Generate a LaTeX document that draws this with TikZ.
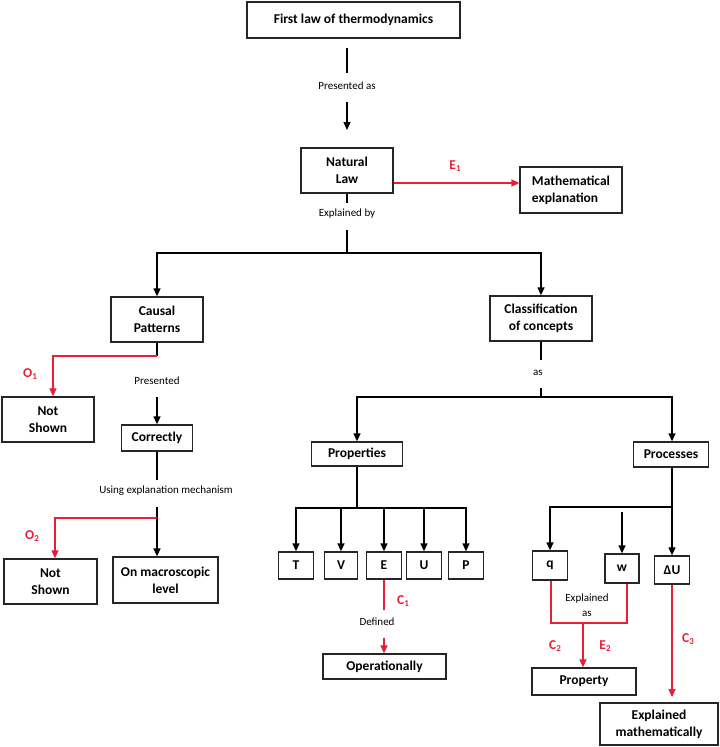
\documentclass[tikz,border=0pt]{standalone}
\usepackage{fontspec}
\setmainfont{Carlito}
\usetikzlibrary{arrows.meta}
\definecolor{myred}{RGB}{232,30,55}
\newcommand{\rsub}[2]{#1\raisebox{-2.5pt}{\fontsize{9}{9}\selectfont #2}}
\tikzset{
 box/.style={draw=black!85, line width=1.3pt, inner sep=0pt, align=center, font=\fontsize{13.5}{17}\selectfont\bfseries},
 lbl/.style={font=\fontsize{11}{15}\selectfont, inner sep=1pt, align=center},
 rlbl/.style={font=\fontsize{13.5}{16}\selectfont\bfseries, text=myred, inner sep=0pt},
 conn/.style={line width=1.3pt, draw=black},
 arr/.style={conn, -{Triangle[length=8pt,width=7pt]}},
 rconn/.style={line width=1.4pt, draw=myred},
 rarr/.style={rconn, -{Triangle[length=8pt,width=7pt]}},
}
\begin{document}
\begin{tikzpicture}[x=1pt,y=-1pt]
\useasboundingbox (0,0) rectangle (720,747);
% boxes
\node[box, minimum width=213pt, minimum height=36pt] (first) at (353.5,20) {First law of thermodynamics};
\node[box, minimum width=92pt, minimum height=45pt] (nat) at (347,170.5) {Natural\\Law};
\node[box, minimum width=102pt, minimum height=46pt, align=left] (math) at (571,190) {Mathematical\\explanation};
\node[box, minimum width=92pt, minimum height=45pt] (causal) at (157,319.5) {Causal\\Patterns};
\node[box, minimum width=102pt, minimum height=45pt] (cls) at (541,318.5) {Classification\\of concepts};
\node[box, minimum width=92pt, minimum height=45pt] (ns1) at (48,419.5) {Not\\Shown};
\node[box, minimum width=71pt, minimum height=26pt] (correctly) at (157,438) {Correctly};
\node[box, minimum width=93pt, minimum height=45pt] (ns2) at (50.5,581.5) {Not\\Shown};
\node[box, minimum width=105pt, minimum height=46pt] (macro) at (165.5,580) {On macroscopic\\level};
\node[box, minimum width=91pt, minimum height=24pt] (props) at (357,454) {Properties};
\node[box, minimum width=75pt, minimum height=25pt] (procs) at (671,454.5) {Processes};
\node[box, minimum width=35pt, minimum height=27pt] (T) at (296,565.5) {T};
\node[box, minimum width=33pt, minimum height=27pt] (V) at (341,565.5) {V};
\node[box, minimum width=35pt, minimum height=27pt] (E) at (384,565.5) {E};
\node[box, minimum width=35pt, minimum height=27pt] (U) at (424,565.5) {U};
\node[box, minimum width=35pt, minimum height=27pt] (P) at (466,565.5) {P};
\node[box, minimum width=123pt, minimum height=25pt] (op) at (384.5,666.5) {Operationally};
\node[box, minimum width=35pt, minimum height=29pt] (q) at (550,565.5) {q};
\node[box, minimum width=34pt, minimum height=29pt] (w) at (622,568.5) {w};
\node[box, minimum width=35pt, minimum height=28pt] (dU) at (672,570) {ΔU};
\node[box, minimum width=104pt, minimum height=27pt] (prop) at (584,681.5) {Property};
\node[box, minimum width=118pt, minimum height=42pt] (em) at (659,724) {Explained\\mathematically};
% labels
\node[lbl] (l1) at (347,86) {Presented as};
\node[lbl] (l2) at (347,214) {Explained by};
\node[lbl] (l3) at (157,381) {Presented};
\node[lbl] (l4) at (166,491) {Using explanation mechanism};
\node[lbl] (l5) at (538,373) {as};
\node[lbl] (l6) at (377,622) {Defined};
\node[lbl] (l7) at (587,605) {Explained\\as};
\node[rlbl] (e1) at (455,166) {\rsub{E}{1}};
\node[rlbl] (o1) at (30,374) {\rsub{O}{1}};
\node[rlbl] (o2) at (32,536) {\rsub{O}{2}};
\node[rlbl] (c1) at (403,601) {\rsub{C}{1}};
\node[rlbl] (c2) at (555,646) {\rsub{C}{2}};
\node[rlbl] (e2) at (605,646) {\rsub{E}{2}};
\node[rlbl] (c3) at (688,639) {\rsub{C}{3}};
% coordinates
\coordinate (a1) at (347,48);
\coordinate (a2) at (347,73);
\coordinate (a3) at (347,102);
\coordinate (a4) at (347,130);
\coordinate (b1) at (347,230);
\coordinate (j1) at (347,253);
\coordinate (j2) at (157,356);
\coordinate (c0) at (157,397);
\coordinate (d1) at (157,480);
\coordinate (d2) at (157,507);
\coordinate (j3) at (157,518);
\coordinate (f1) at (541,360);
\coordinate (f2) at (541,388);
\coordinate (j4) at (541,397);
\coordinate (j5) at (357,508);
\coordinate (g1) at (384,610);
\coordinate (g2) at (384,638);
\coordinate (j6) at (672,507);
\coordinate (h1) at (622,512);
\coordinate (j7) at (551,623);
\coordinate (j8) at (627,623);
\coordinate (jm) at (583,623);
\coordinate (k1) at (672,697);
% connectors
\draw[conn] (a1) -- (a2);
\draw[arr] (a3) -- (a4);
\draw[rarr] ([yshift=-12.5pt]nat.east) -- ([yshift=-12.5pt]nat.east -| math.west);
\draw[conn] (nat.south) -- ++(0,9);
\draw[conn] (b1) -- (j1);
\draw[arr] (j1) -| (causal.north);
\draw[arr] (j1) -| (cls.north);
\draw[conn] (causal.south) -- (j2);
\draw[rarr] (j2) -| ([xshift=5pt]ns1.north);
\draw[arr] (c0) -- (correctly.north);
\draw[conn] (correctly.south) -- (d1);
\draw[conn] (d2) -- (j3);
\draw[arr] (j3) -- (macro.north -| j3);
\draw[rarr] (j3) -| ([xshift=4.5pt]ns2.north);
\draw[conn] (cls.south) -- (f1);
\draw[conn] (f2) -- (j4);
\draw[arr] (j4) -| (props.north);
\draw[arr] (j4) -| (procs.north -| j6);
\draw[conn] (procs.south -| j6) -- (j6);
\draw[conn] (props.south) -- (j5);
\draw[arr] (j5) -| (T.north);
\draw[arr] (j5) -| (V.north);
\draw[arr] (j5) -| (E.north);
\draw[arr] (j5) -| (U.north);
\draw[arr] (j5) -| (P.north);
\draw[rconn] (E.south) -- (g1);
\draw[rarr] (g2) -- (op.north -| g2);
\draw[arr] (j6) -| (q.north);
\draw[arr] (j6) -- (j6 |- dU.north);
\draw[arr] (h1) -- (w.north);
\draw[rconn] (q.south -| j7) -- (j7) -- (j8) -- (j8 |- w.south);
\draw[rarr] (jm) -- (prop.north -| jm);
\draw[rarr] (dU.south) -- (k1);
\end{tikzpicture}
\end{document}
